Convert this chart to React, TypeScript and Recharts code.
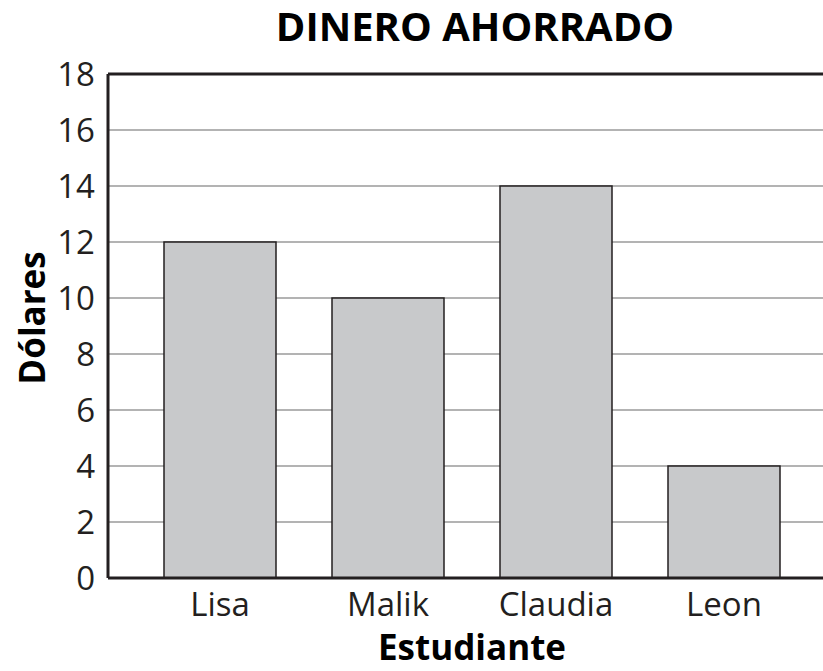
import { Bar, BarChart, CartesianGrid, ReferenceLine, XAxis, YAxis } from "recharts";

const students = ["Lisa", "Malik", "Claudia", "Leon"];
const dollars = [12, 10, 14, 4];
const yTicks = [0, 2, 4, 6, 8, 10, 12, 14, 16, 18];

const data = students.map((name, i) => ({ name, value: dollars[i] }));

const ink = "#231f20";
const font = "'Open Sans', sans-serif";

export default function App() {
  return (
    <div style={{ position: "absolute", left: 0, top: 0, width: 823, height: 671, fontFamily: font, background: "#fff" }}>
      <BarChart
        width={823}
        height={671}
        data={data}
        margin={{ top: 74, right: 0, bottom: 53, left: 0 }}
        barCategoryGap={28}
        style={{ position: "absolute", left: 0, top: 0 }}
      >
        <CartesianGrid vertical={false} stroke="#9a9a9a" strokeWidth={1.5} />
        <XAxis
          dataKey="name"
          padding={{ left: 28, right: 15 }}
          tickLine={false}
          axisLine={{ stroke: ink, strokeWidth: 3 }}
          tick={{ fill: ink, fontSize: 33, fontFamily: font }}
          tickMargin={9}
          height={40}
        />
        <YAxis
          domain={[0, 18]}
          ticks={yTicks}
          interval={0}
          width={108}
          tickLine={false}
          axisLine={{ stroke: ink, strokeWidth: 3 }}
          tick={{ fill: ink, fontSize: 33, fontFamily: font }}
          tickMargin={7}
        />
        <ReferenceLine y={18} stroke={ink} strokeWidth={3} />
        <Bar dataKey="value" fill="#c8c9cb" stroke={ink} strokeWidth={1.5} isAnimationActive={false} />
      </BarChart>
      <svg
        width={823}
        height={671}
        style={{ position: "absolute", left: 0, top: 0, pointerEvents: "none" }}
      >
        <text x={475} y={41} textAnchor="middle" fontSize={40} fontWeight={700} fontFamily={font} fill="#000">
          DINERO AHORRADO
        </text>
        <text
          x={45}
          y={318}
          textAnchor="middle"
          fontSize={35}
          fontWeight={700}
          fontFamily={font}
          fill="#000"
          transform="rotate(-90 45 318)"
        >
          Dólares
        </text>
        <text x={472} y={660} textAnchor="middle" fontSize={35} fontWeight={700} fontFamily={font} fill="#000">
          Estudiante
        </text>
      </svg>
    </div>
  );
}
